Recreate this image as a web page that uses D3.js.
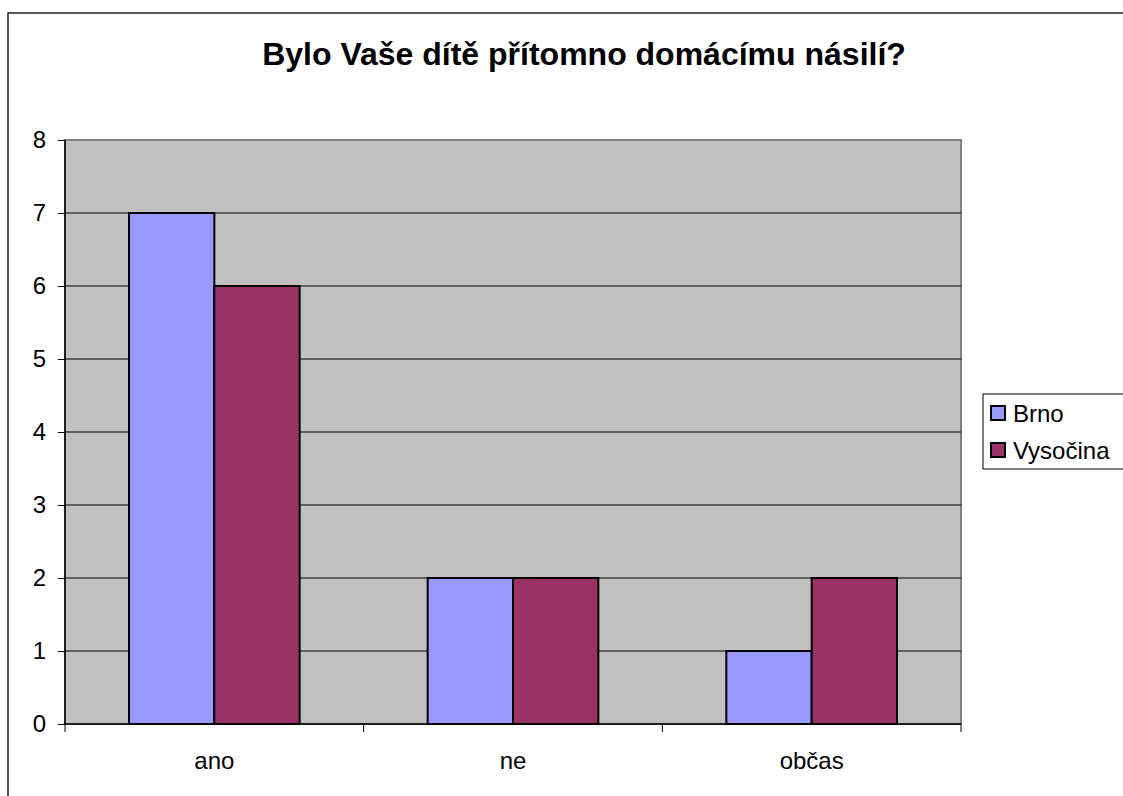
<!DOCTYPE html>
<html lang="cs">
<head>
<meta charset="utf-8">
<title>Bylo Vaše dítě přítomno domácímu násilí?</title>
<script src="https://d3js.org/d3.v7.min.js"></script>
<style>
  body { margin: 0; background: white; }
  text { font-family: "Liberation Sans", Arial, sans-serif; fill: black; }
  .title { font-size: 32px; font-weight: bold; }
  .lbl { font-size: 24px; }
</style>
</head>
<body>
<svg></svg>
<script>
const categories = ["ano", "ne", "občas"];
const seriesNames = ["Brno", "Vysočina"];
const brno = [7, 2, 1];
const vysocina = [6, 2, 2];
const seriesValues = [brno, vysocina];
const colors = ["#9999FF", "#993366"];
const yTicks = [0, 1, 2, 3, 4, 5, 6, 7, 8];

const W = 1123, H = 796;
const plot = { left: 65, top: 140, right: 961, bottom: 724 };

const svg = d3.select("svg").attr("width", W).attr("height", H);

// outer frame (runs past the right and bottom edges)
svg.append("rect")
  .attr("x", 8).attr("y", 13).attr("width", 1300).attr("height", 1000)
  .attr("fill", "white").attr("stroke", "#222").attr("stroke-width", 1.5);

svg.append("text").attr("class", "title")
  .attr("x", 584).attr("y", 65).attr("text-anchor", "middle")
  .text("Bylo Vaše dítě přítomno domácímu násilí?");

const x = d3.scaleBand().domain(categories).range([plot.left, plot.right]).padding(0);
const y = d3.scaleLinear().domain([0, 8]).range([plot.bottom, plot.top]);
const barW = x.bandwidth() / 3.5;

// plot area
svg.append("rect")
  .attr("x", plot.left).attr("y", plot.top)
  .attr("width", plot.right - plot.left).attr("height", plot.bottom - plot.top)
  .attr("fill", "#C0C0C0").attr("stroke", "#808080").attr("stroke-width", 2);

// gridlines
svg.append("g").selectAll("line")
  .data(yTicks.filter(d => d > 0 && d < 8))
  .join("line")
  .attr("x1", plot.left).attr("x2", plot.right)
  .attr("y1", d => y(d)).attr("y2", d => y(d))
  .attr("stroke", "black").attr("stroke-width", 1);

// bars
seriesNames.forEach((name, s) => {
  svg.append("g").selectAll("rect")
    .data(categories)
    .join("rect")
    .attr("x", (c) => x(c) + barW * 0.75 + s * barW)
    .attr("y", (c, i) => y(seriesValues[s][i]))
    .attr("width", barW)
    .attr("height", (c, i) => y(0) - y(seriesValues[s][i]))
    .attr("fill", colors[s])
    .attr("stroke", "black").attr("stroke-width", 2);
});

// y axis
const yAxis = svg.append("g")
  .attr("transform", `translate(${plot.left},0)`)
  .call(d3.axisLeft(y).tickValues(yTicks).tickSize(7).tickPadding(12).tickFormat(d3.format("d")));
yAxis.select(".domain").attr("stroke", "black").attr("stroke-width", 1.5).attr("d", `M0,${plot.top}V${plot.bottom}`);
yAxis.selectAll(".tick line").attr("stroke", "black");
yAxis.selectAll("text").attr("class", "lbl").attr("font-family", null).attr("font-size", null);

// x axis
const xAxis = svg.append("g")
  .attr("transform", `translate(0,${plot.bottom})`)
  .call(d3.axisBottom(x).tickSize(0).tickPadding(28));
xAxis.select(".domain").attr("stroke", "black").attr("stroke-width", 1.5).attr("d", `M${plot.left},0H${plot.right}`);
xAxis.selectAll("text").attr("class", "lbl").attr("font-family", null).attr("font-size", null);
// category separators
xAxis.append("g").selectAll("line")
  .data(categories.concat([null]))
  .join("line")
  .attr("x1", (c) => c === null ? plot.right : x(c))
  .attr("x2", (c) => c === null ? plot.right : x(c))
  .attr("y1", 0).attr("y2", 8)
  .attr("stroke", "black").attr("stroke-width", 1);

// legend
const lg = svg.append("g").attr("transform", "translate(983,394)");
lg.append("rect").attr("width", 200).attr("height", 75)
  .attr("fill", "white").attr("stroke", "black").attr("stroke-width", 1);
const items = lg.selectAll("g.item").data(seriesNames).join("g")
  .attr("class", "item")
  .attr("transform", (d, i) => `translate(8,${12 + i * 37})`);
items.append("rect").attr("width", 14).attr("height", 14)
  .attr("fill", (d, i) => colors[i]).attr("stroke", "black").attr("stroke-width", 2);
items.append("text").attr("class", "lbl").attr("x", 22).attr("y", 16).text(d => d);
</script>
</body>
</html>
